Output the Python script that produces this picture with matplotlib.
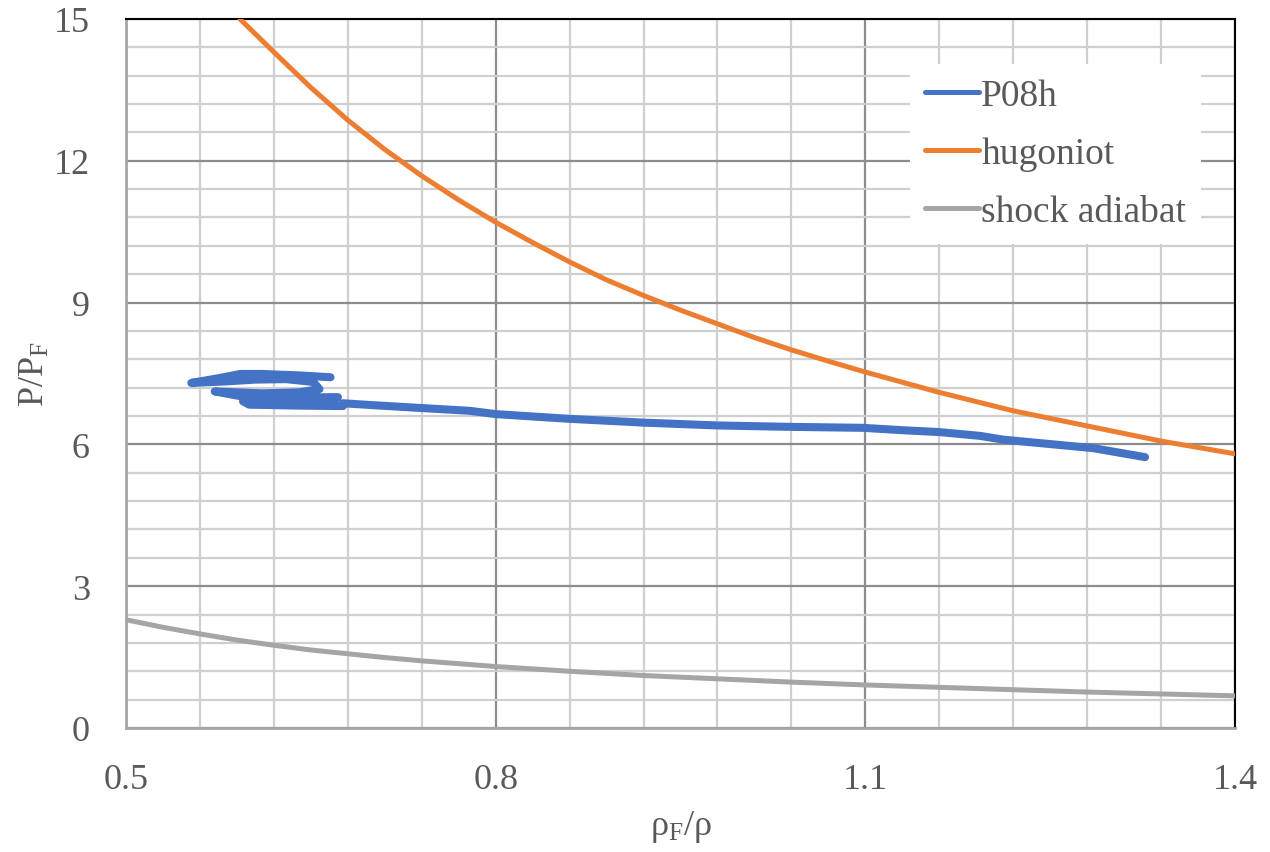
import numpy as np
import matplotlib.pyplot as plt

# P08h trajectory: density ratio rhoF/rho vs. pressure ratio P/PF
p08h_x = [0.666, 0.640, 0.610, 0.593, 0.575, 0.553, 0.580, 0.605, 0.630, 0.652,
          0.657, 0.640, 0.610, 0.572, 0.595, 0.630, 0.672, 0.668, 0.630, 0.595,
          0.600, 0.640, 0.676, 0.676, 0.700, 0.739, 0.779, 0.800, 0.860, 0.920,
          0.980, 1.040, 1.098, 1.130, 1.160, 1.193, 1.212, 1.220, 1.285, 1.327]
p08h_y = [7.42, 7.46, 7.49, 7.49, 7.40, 7.30, 7.33, 7.37, 7.38, 7.32,
          7.17, 7.10, 7.08, 7.12, 7.01, 6.99, 7.00, 6.91, 6.89, 6.91,
          6.84, 6.82, 6.81, 6.87, 6.83, 6.77, 6.71, 6.64, 6.54, 6.46,
          6.40, 6.37, 6.35, 6.30, 6.26, 6.18, 6.10, 6.08, 5.92, 5.73]

# Hugoniot curve
hug_x = [0.5925, 0.62, 0.65, 0.68, 0.71, 0.74, 0.77, 0.80, 0.83, 0.86,
         0.89, 0.92, 0.95, 0.98, 1.01, 1.04, 1.07, 1.10, 1.16, 1.22,
         1.28, 1.34, 1.40]
hug_y = [15.0, 14.30, 13.55, 12.86, 12.24, 11.68, 11.17, 10.70, 10.27, 9.86,
         9.48, 9.15, 8.84, 8.55, 8.26, 8.00, 7.76, 7.53, 7.10, 6.71,
         6.39, 6.07, 5.80]

# Shock adiabat
adi_x = [0.50, 0.53, 0.56, 0.59, 0.62, 0.65, 0.68, 0.71, 0.74, 0.77,
         0.80, 0.86, 0.92, 0.98, 1.04, 1.10, 1.16, 1.22, 1.28, 1.34, 1.40]
adi_y = [2.29, 2.13, 1.99, 1.86, 1.75, 1.65, 1.57, 1.49, 1.42, 1.36,
         1.30, 1.20, 1.11, 1.04, 0.97, 0.91, 0.86, 0.81, 0.76, 0.72, 0.68]

x_major = [0.5, 0.8, 1.1, 1.4]
y_major = [0, 3, 6, 9, 12, 15]

plt.rcParams['font.family'] = ['Liberation Serif', 'DejaVu Serif']
text_color = '#595959'

fig = plt.figure(figsize=(12.7, 8.53), dpi=100)
ax = fig.add_axes([0.0992, 0.1454, 0.8732, 0.8312])

ax.plot(p08h_x, p08h_y, color='#4472C4', lw=5.8, solid_capstyle='round',
        solid_joinstyle='round', label='P08h', zorder=5)
ax.plot(hug_x, hug_y, color='#ED7D31', lw=3.6, solid_capstyle='round',
        label='hugoniot', zorder=4)
ax.plot(adi_x, adi_y, color='#A5A5A5', lw=3.6, solid_capstyle='round',
        label='shock adiabat', zorder=4)

ax.set_xlim(0.5, 1.4)
ax.set_ylim(0, 15)
ax.set_xticks(x_major)
ax.set_xticks(np.linspace(0.5, 1.4, 16), minor=True)
ax.set_yticks(y_major)
ax.set_yticks(np.linspace(0, 15, 26), minor=True)
ax.set_xticklabels([f'{v:.1f}' for v in x_major])
ax.set_yticklabels([f'{v}' for v in y_major])

ax.grid(which='major', color='#8c8c8c', lw=1.6, zorder=1)
ax.grid(which='minor', color='#cfcfcf', lw=1.6, zorder=1)
ax.set_axisbelow(True)

ax.tick_params(which='both', length=0, labelsize=26, labelcolor=text_color)
ax.tick_params(axis='x', pad=25)
ax.tick_params(axis='y', pad=26)

for side in ('left', 'bottom'):
    ax.spines[side].set_color('#a6a6a6')
    ax.spines[side].set_linewidth(2)
for side in ('top', 'right'):
    ax.spines[side].set_color('black')
    ax.spines[side].set_linewidth(1.5)

ax.set_xlabel(r'$\mathregular{\rho_F/\rho}$', fontsize=26, color=text_color, labelpad=9)
ax.set_ylabel(r'$\mathregular{P/P_F}$', fontsize=26, color=text_color, labelpad=1)

leg = ax.legend(loc='upper left', bbox_to_anchor=(0.69, 0.963), fontsize=27,
                frameon=True, fancybox=False, framealpha=1, edgecolor='none',
                facecolor='white', handlelength=1.45, handletextpad=0.05,
                labelspacing=0.62, borderpad=0.4)
for t in leg.get_texts():
    t.set_color(text_color)
for h in leg.legend_handles:
    h.set_linewidth(3.6)

fig.savefig('out.png', dpi=100)
